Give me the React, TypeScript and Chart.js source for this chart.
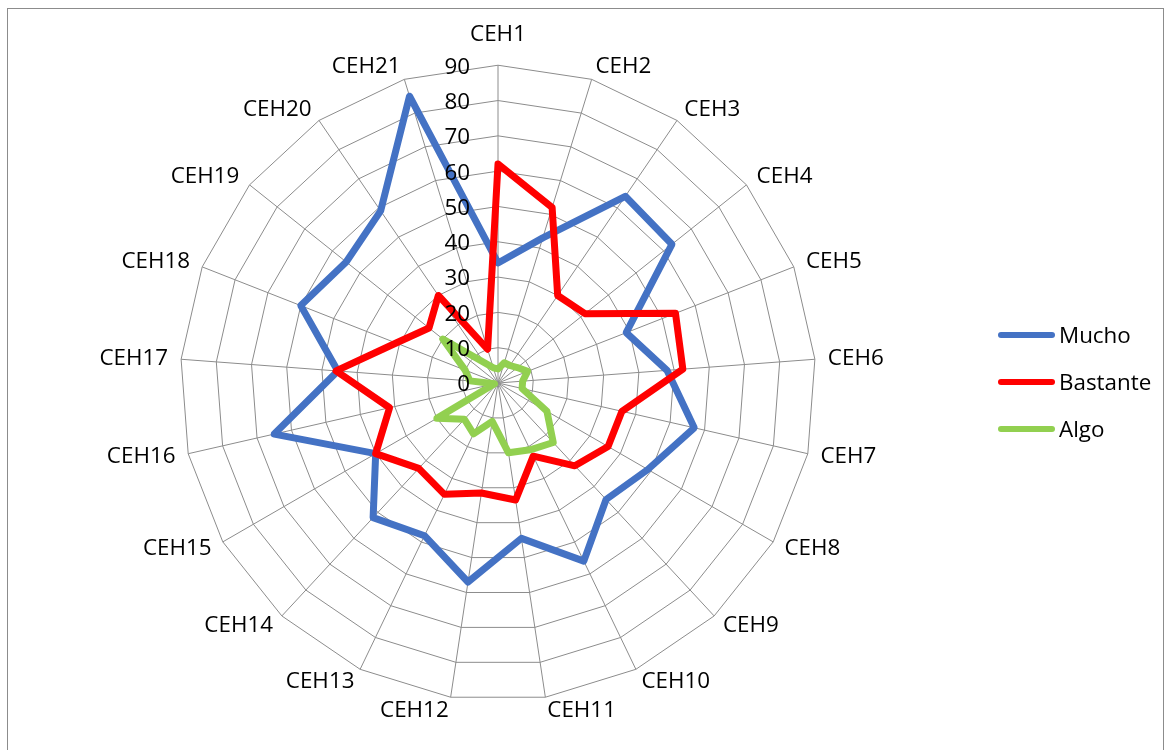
import React, { useEffect, useRef } from "react";
import { Chart, registerables } from "chart.js";

Chart.register(...registerables);

const categories = [
  "CEH1", "CEH2", "CEH3", "CEH4", "CEH5", "CEH6", "CEH7", "CEH8", "CEH9", "CEH10", "CEH11",
  "CEH12", "CEH13", "CEH14", "CEH15", "CEH16", "CEH17", "CEH18", "CEH19", "CEH20", "CEH21",
];

const mucho = [34, 43, 64, 63, 39, 48, 57, 49, 45, 56, 44.5, 57, 48, 52, 40, 65, 45.5, 60, 55, 59, 85];
const bastante = [62, 52, 30, 31.5, 54, 52.5, 36, 36, 32, 23, 33.5, 31.5, 35, 33, 40, 31.5, 46, 31, 25, 30, 10];
const algo = [4, 6, 6, 7, 9, 7, 7, 16, 23, 21, 20, 11, 16, 14, 20, 1, 8, 10, 20, 7, 4.5];

const tickValues = [0, 10, 20, 30, 40, 50, 60, 70, 80, 90];

const seriesNames = ["Mucho", "Bastante", "Algo"];
const seriesColors = ["#4472C4", "#FF0000", "#92D050"];

const FONT = '"Open Sans", sans-serif';
const FONT_SIZE = 22.4;

const tickLabelPlugin = {
  id: "tickLabels",
  afterDatasetsDraw(chart: any) {
    const s = chart.scales.r;
    const ctx = chart.ctx;
    ctx.save();
    ctx.font = `${FONT_SIZE}px ${FONT}`;
    ctx.fillStyle = "#000";
    ctx.textAlign = "right";
    ctx.textBaseline = "middle";
    tickValues.forEach((v) => {
      const d = s.getDistanceFromCenterForValue(v);
      ctx.fillText(String(v), s.xCenter - 28, s.yCenter - d + 2);
    });
    ctx.restore();
  },
};

export default function App() {
  const ref = useRef<HTMLCanvasElement | null>(null);

  useEffect(() => {
    if (!ref.current) return;
    const seriesData = [mucho, bastante, algo];
    const chart = new Chart(ref.current, {
      type: "radar",
      data: {
        labels: categories,
        datasets: seriesNames.map((name, i) => ({
          label: name,
          data: seriesData[i],
          borderColor: seriesColors[i],
          backgroundColor: seriesColors[i],
          borderWidth: 7,
          borderJoinStyle: "round" as const,
          pointRadius: 0,
          pointHoverRadius: 0,
          fill: false,
          tension: 0,
          order: 3 - i,
        })),
      },
      options: {
        responsive: false,
        animation: false,
        devicePixelRatio: 1,
        layout: { padding: { top: 25, bottom: 29, left: 40, right: 211 } },
        plugins: {
          legend: { display: false },
          tooltip: { enabled: false },
        },
        scales: {
          r: {
            min: 0,
            max: 90,
            startAngle: 0,
            ticks: { stepSize: 10, display: false },
            grid: { color: "#8c8c8c", lineWidth: 1, circular: false },
            angleLines: { color: "#8c8c8c", lineWidth: 1 },
            pointLabels: {
              color: "#000",
              font: { family: FONT, size: FONT_SIZE, lineHeight: 0.01 },
              padding: (ctx: any) => (ctx.index === 0 ? 30 : 13),
            },
          },
        },
      },
      plugins: [tickLabelPlugin],
    });
    return () => chart.destroy();
  }, []);

  const legendY = [335, 382, 429];

  return (
    <div
      style={{
        position: "fixed",
        left: 0,
        top: 0,
        width: 1167,
        height: 750,
        overflow: "hidden",
        background: "#fff",
      }}
    >
      <canvas ref={ref} width={1167} height={750} style={{ display: "block", width: 1167, height: 750 }} />
      <div
        style={{
          position: "absolute",
          left: 7,
          top: 8,
          width: 1155,
          height: 800,
          border: "1px solid #8c8c8c",
          pointerEvents: "none",
        }}
      />
      {seriesNames.map((name, i) => (
        <React.Fragment key={name}>
          <div
            style={{
              position: "absolute",
              left: 998,
              top: legendY[i] - 3,
              width: 57,
              height: 6,
              borderRadius: 3,
              background: seriesColors[i],
            }}
          />
          <div
            style={{
              position: "absolute",
              left: 1059,
              top: legendY[i] - 16,
              height: 32,
              lineHeight: "32px",
              fontFamily: FONT,
              fontSize: FONT_SIZE,
              color: "#000",
              whiteSpace: "nowrap",
            }}
          >
            {name}
          </div>
        </React.Fragment>
      ))}
    </div>
  );
}
